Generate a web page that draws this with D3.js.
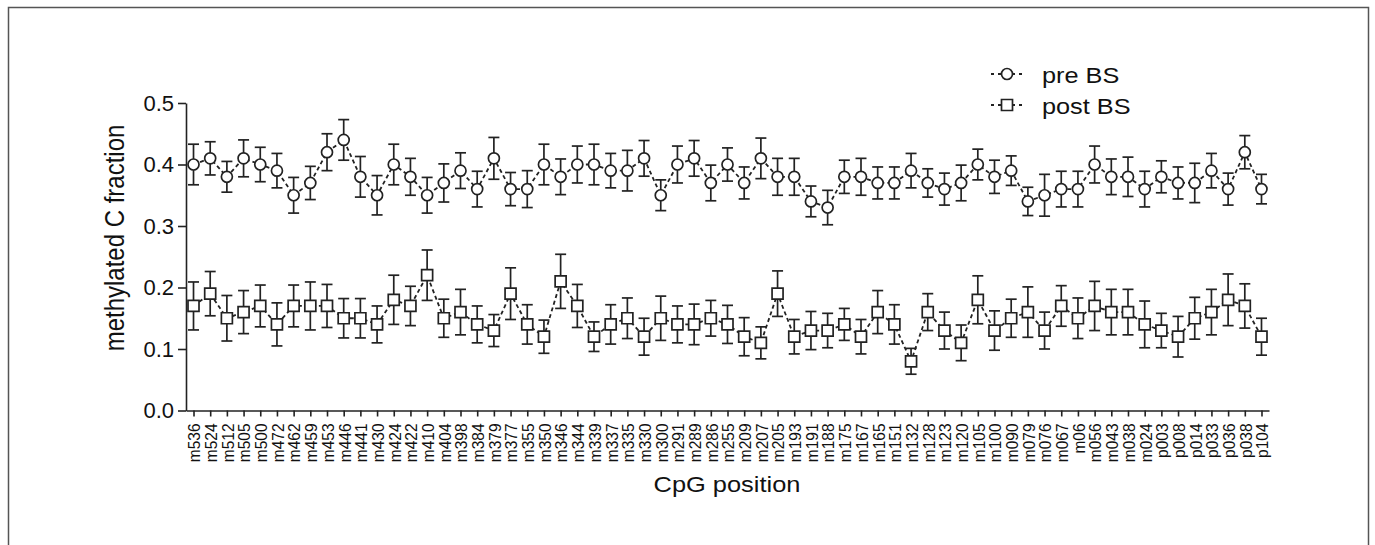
<!DOCTYPE html>
<html>
<head>
<meta charset="utf-8">
<script src="https://cdn.jsdelivr.net/npm/d3@7"></script>
<style>
  body { margin: 0; background: #fff; }
  svg { display: block; font-family: "Liberation Sans", Arial, sans-serif; }
</style>
</head>
<body>
<svg id="chart" width="1375" height="545"></svg>
<script>
// CpG positions on the x axis
var positions = ["m536","m524","m512","m505","m500","m472","m462","m459","m453","m446",
  "m441","m430","m424","m422","m410","m404","m398","m384","m379","m377",
  "m355","m350","m346","m344","m339","m337","m335","m330","m300","m291",
  "m289","m286","m255","m209","m207","m205","m193","m191","m188","m175",
  "m167","m165","m151","m132","m128","m123","m120","m105","m100","m090",
  "m079","m076","m067","m06","m056","m043","m038","m024","p003","p008",
  "p014","p033","p036","p038","p104"];

// pre BS mean and error
var preBS = [0.40,0.41,0.38,0.41,0.40,0.39,0.35,0.37,0.42,0.44,
  0.38,0.35,0.40,0.38,0.35,0.37,0.39,0.36,0.41,0.36,
  0.36,0.40,0.38,0.40,0.40,0.39,0.39,0.41,0.35,0.40,
  0.41,0.37,0.40,0.37,0.41,0.38,0.38,0.34,0.33,0.38,
  0.38,0.37,0.37,0.39,0.37,0.36,0.37,0.40,0.38,0.39,
  0.34,0.35,0.36,0.36,0.40,0.38,0.38,0.36,0.38,0.37,
  0.37,0.39,0.36,0.42,0.36];
var preErr = [0.033,0.027,0.025,0.030,0.028,0.028,0.029,0.027,0.030,0.033,
  0.033,0.032,0.033,0.030,0.029,0.031,0.029,0.029,0.034,0.027,
  0.030,0.033,0.029,0.030,0.033,0.028,0.033,0.029,0.025,0.030,
  0.029,0.029,0.027,0.026,0.033,0.030,0.030,0.025,0.028,0.027,
  0.030,0.026,0.026,0.028,0.023,0.026,0.029,0.025,0.027,0.024,
  0.023,0.034,0.029,0.029,0.030,0.029,0.032,0.029,0.026,0.026,
  0.032,0.028,0.026,0.027,0.024];

// post BS mean and error
var postBS = [0.17,0.19,0.15,0.16,0.17,0.14,0.17,0.17,0.17,0.15,
  0.15,0.14,0.18,0.17,0.22,0.15,0.16,0.14,0.13,0.19,
  0.14,0.12,0.21,0.17,0.12,0.14,0.15,0.12,0.15,0.14,
  0.14,0.15,0.14,0.12,0.11,0.19,0.12,0.13,0.13,0.14,
  0.12,0.16,0.14,0.08,0.16,0.13,0.11,0.18,0.13,0.15,
  0.16,0.13,0.17,0.15,0.17,0.16,0.16,0.14,0.13,0.12,
  0.15,0.16,0.18,0.17,0.12];
var postErr = [0.039,0.036,0.037,0.035,0.034,0.035,0.034,0.039,0.035,0.032,
  0.032,0.030,0.040,0.032,0.041,0.031,0.037,0.030,0.026,0.042,
  0.032,0.027,0.044,0.035,0.024,0.032,0.033,0.030,0.036,0.030,
  0.033,0.029,0.031,0.031,0.026,0.037,0.028,0.031,0.028,0.026,
  0.028,0.035,0.032,0.021,0.030,0.030,0.029,0.039,0.032,0.031,
  0.041,0.030,0.033,0.033,0.040,0.037,0.037,0.038,0.028,0.033,
  0.034,0.037,0.042,0.036,0.030];

var yTicks = [0.0,0.1,0.2,0.3,0.4,0.5];
var seriesNames = ["pre BS","post BS"];

var ink = "#222";
var svg = d3.select("#chart");

// frame round the figure
svg.append("rect")
  .attr("x",8.5).attr("y",7.5)
  .attr("width",1360).attr("height",600)
  .attr("fill","none").attr("stroke","#555").attr("stroke-width",1.5);

var x = d3.scalePoint().domain(positions).range([186,1269]).padding(0.45);
var y = d3.scaleLinear().domain([0,0.5]).range([410.5,103]);

// y axis
var gy = svg.append("g").attr("transform","translate(186,0)")
  .call(d3.axisLeft(y).tickValues(yTicks).tickFormat(d3.format(".1f"))
    .tickSize(8).tickSizeOuter(0).tickPadding(4));
gy.selectAll("text").attr("font-size",22).attr("fill","#111")
  .attr("font-family","Liberation Sans, Arial, sans-serif");

// x axis
var gx = svg.append("g").attr("transform","translate(0,"+y(0)+")")
  .call(d3.axisBottom(x).tickSize(6).tickSizeOuter(0).tickPadding(7));
gx.selectAll("text")
  .attr("font-size",15.5).attr("fill","#111")
  .attr("font-family","Liberation Sans, Arial, sans-serif")
  .attr("text-anchor","end")
  .attr("dy",null)
  .attr("y",0).attr("x",-13)
  .attr("transform","scale(1.12,1) rotate(-90)")
  .attr("dominant-baseline","central");

svg.selectAll(".domain, .tick line").attr("stroke",ink).attr("stroke-width",1.6);

// axis titles
svg.append("text")
  .attr("transform","translate(727,492) scale(1.13,1)")
  .attr("text-anchor","middle").attr("font-size",22.5).attr("fill","#111")
  .text("CpG position");
svg.append("text")
  .attr("transform","translate(124,238) scale(1.13,1) rotate(-90)")
  .attr("text-anchor","middle").attr("font-size",24).attr("fill","#111")
  .text("methylated C fraction");

function drawSeries(vals, errs, shape) {
  var pts = vals.map(function(v,i){ return {k:positions[i], v:v, e:errs[i]}; });
  var g = svg.append("g");

  g.append("path").datum(pts)
    .attr("fill","none").attr("stroke",ink).attr("stroke-width",1.8)
    .attr("stroke-dasharray","4,3")
    .attr("d", d3.line().x(function(d){ return x(d.k); }).y(function(d){ return y(d.v); }));

  var eb = g.selectAll(".eb").data(pts).enter().append("g")
    .attr("transform", function(d){ return "translate("+x(d.k)+",0)"; })
    .attr("stroke",ink).attr("stroke-width",1.7);
  eb.append("line").attr("x1",0).attr("x2",0)
    .attr("y1",function(d){ return y(d.v+d.e); })
    .attr("y2",function(d){ return y(d.v-d.e); });
  eb.append("line").attr("x1",-5.5).attr("x2",5.5)
    .attr("y1",function(d){ return y(d.v+d.e); })
    .attr("y2",function(d){ return y(d.v+d.e); });
  eb.append("line").attr("x1",-5.5).attr("x2",5.5)
    .attr("y1",function(d){ return y(d.v-d.e); })
    .attr("y2",function(d){ return y(d.v-d.e); });

  var sym = d3.symbol().type(shape==="circle" ? d3.symbolCircle : d3.symbolSquare)
    .size(shape==="circle" ? 95 : 121);
  g.selectAll(".mk").data(pts).enter().append("path")
    .attr("d", sym)
    .attr("transform", function(d){ return "translate("+x(d.k)+","+y(d.v)+")"; })
    .attr("fill","#fff").attr("stroke",ink).attr("stroke-width",1.7);
}

drawSeries(preBS, preErr, "circle");
drawSeries(postBS, postErr, "square");

// legend
var legend = svg.append("g");
seriesNames.forEach(function(name,i){
  var ly = 74 + i*31;
  legend.append("line").attr("x1",991).attr("x2",1025).attr("y1",ly).attr("y2",ly)
    .attr("stroke",ink).attr("stroke-width",1.8).attr("stroke-dasharray","3,4");
  var sym = d3.symbol().type(i===0 ? d3.symbolCircle : d3.symbolSquare).size(i===0 ? 95 : 121);
  legend.append("path").attr("d",sym).attr("transform","translate(1007,"+ly+")")
    .attr("fill","#fff").attr("stroke",ink).attr("stroke-width",1.7);
  legend.append("text")
    .attr("transform","translate(1042,"+(ly+9)+") scale(1.15,1)")
    .attr("font-size",22).attr("fill","#111").text(name);
});
</script>
</body>
</html>
